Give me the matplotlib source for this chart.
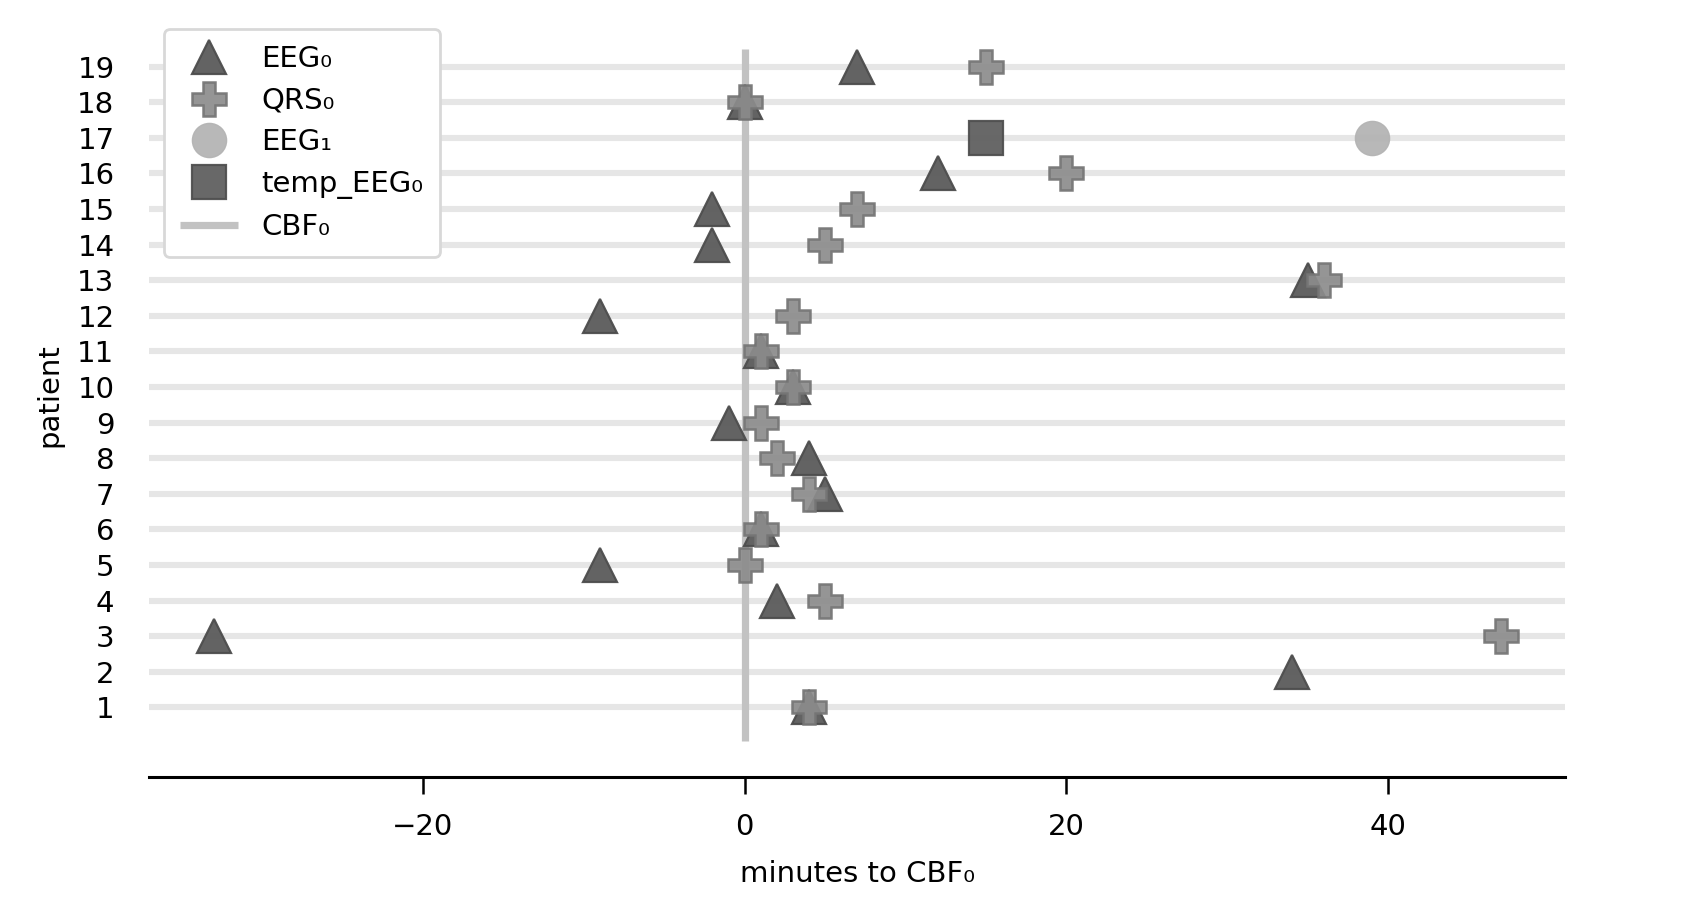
import matplotlib
matplotlib.use('Agg')
import matplotlib.pyplot as plt

# ---- data ----
patients = list(range(1, 20))

eeg0_patient = [19, 18, 16, 15, 14, 13, 12, 11, 10, 9, 8, 7, 6, 5, 4, 3, 2, 1]
eeg0_minutes = [7, 0, 12, -2, -2, 35, -9, 1, 3, -1, 4, 5, 1, -9, 2, -33, 34, 4]

qrs0_patient = [19, 18, 16, 15, 14, 13, 12, 11, 10, 9, 8, 7, 6, 5, 4, 3, 1]
qrs0_minutes = [15, 0, 20, 7, 5, 36, 3, 1, 3, 1, 2, 4, 1, 0, 5, 47, 4]

eeg1_patient = [17]
eeg1_minutes = [39]

temp_eeg0_patient = [17]
temp_eeg0_minutes = [15]

cbf0_minutes = 0

series_labels = ['EEG\u2080', 'QRS\u2080', 'EEG\u2081', 'temp_EEG\u2080', 'CBF\u2080']
xticks = [-20, 0, 20, 40]

# ---- figure ----
plt.rcParams['font.family'] = ['DejaVu Sans']
fig = plt.figure(figsize=(8.44, 4.5), dpi=200)
ax = fig.add_axes([0.0884, 0.137, 0.8389, 0.847])

ms = 12.3
ax.plot(eeg0_minutes, eeg0_patient, linestyle='none', marker='^', ms=ms,
        mfc='#5b5b5b', mec='#4d4d4d', mew=0.8, alpha=0.95, zorder=3,
        label=series_labels[0])
ax.plot(qrs0_minutes, qrs0_patient, linestyle='none', marker='P', ms=ms,
        mfc='#8c8c8c', mec='#757575', mew=0.9, alpha=0.92, zorder=4,
        label=series_labels[1])
ax.plot(eeg1_minutes, eeg1_patient, linestyle='none', marker='o', ms=ms,
        mfc='#b4b4b4', mec='#b4b4b4', mew=0.5, alpha=0.95, zorder=4,
        label=series_labels[2])
ax.plot(temp_eeg0_minutes, temp_eeg0_patient, linestyle='none', marker='s', ms=ms,
        mfc='#606060', mec='#505050', mew=0.8, alpha=0.95, zorder=4,
        label=series_labels[3])
ax.vlines(cbf0_minutes, min(patients) - 0.94, max(patients) + 0.5,
          color='#c2c2c2', lw=2.6, zorder=2, label=series_labels[4])

ax.set_yticks(patients)
ax.set_yticklabels([str(p) for p in patients])
ax.yaxis.grid(True, color='#e6e6e6', lw=2.2, zorder=0)
ax.set_axisbelow(True)
ax.set_xticks(xticks)

xmin = min(eeg0_minutes + qrs0_minutes + eeg1_minutes + temp_eeg0_minutes)
xmax = max(eeg0_minutes + qrs0_minutes + eeg1_minutes + temp_eeg0_minutes)
pad = 0.05 * (xmax - xmin)
ax.set_xlim(xmin - pad, xmax + pad)
ax.set_ylim(-0.95, 20.47)

for s in ['top', 'right', 'left']:
    ax.spines[s].set_visible(False)
ax.spines['bottom'].set_linewidth(1.1)

ax.tick_params(axis='y', length=0, pad=12.5, labelsize=10.5)
ax.tick_params(axis='x', length=6, width=0.9, pad=7, labelsize=10.5)

ax.set_xlabel('minutes to CBF\u2080', fontsize=10.5, labelpad=7)
ax.set_ylabel('patient', fontsize=10.5, labelpad=5)

ax.legend(loc='upper left', fontsize=10.5, frameon=True, fancybox=True,
          edgecolor='#d8d8d8', framealpha=1, labelspacing=0.47,
          borderpad=0.55, borderaxespad=0.5)

fig.savefig('out.png', dpi=200)
